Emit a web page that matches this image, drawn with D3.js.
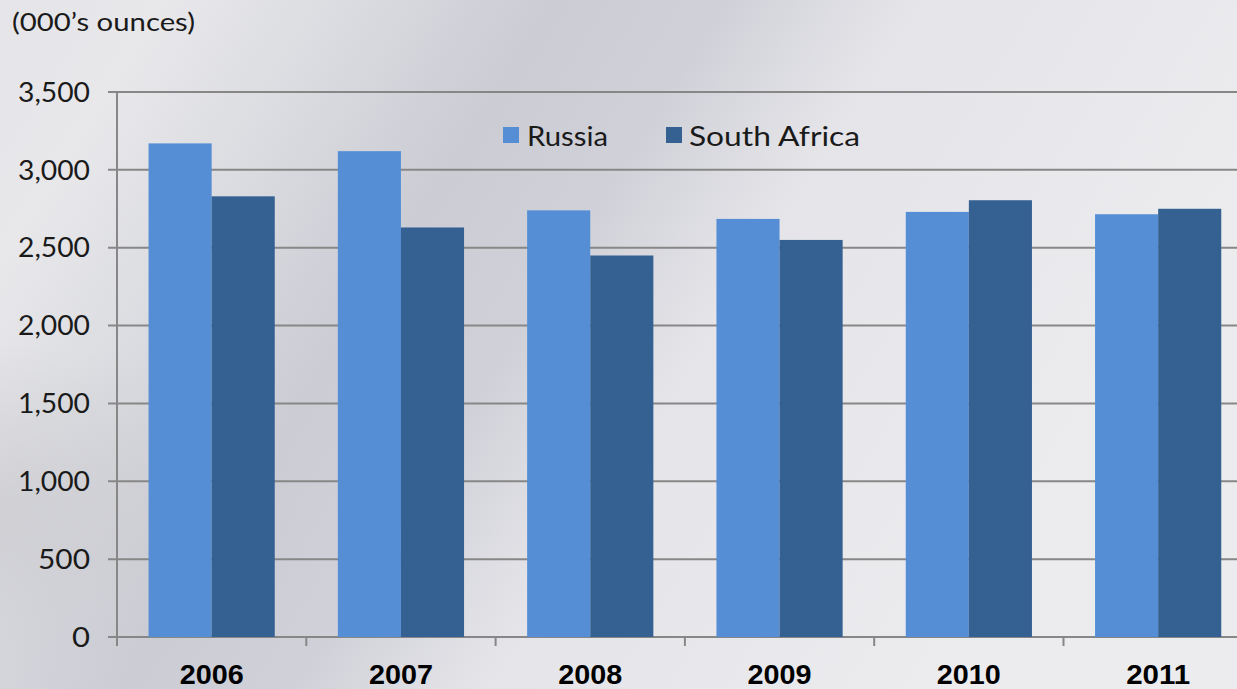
<!DOCTYPE html>
<html><head><meta charset="utf-8">
<script src="https://cdn.jsdelivr.net/npm/d3@7"></script>
<style>html,body{margin:0;padding:0;overflow:hidden;background:#e6e6ea}</style>
</head><body>
<svg id="c" width="1237" height="689"></svg>
<script>
const years = ["2006","2007","2008","2009","2010","2011"];
const seriesNames = ["Russia","South Africa"];
const russia = [3170,3120,2740,2685,2730,2715];
const southAfrica = [2830,2630,2450,2550,2805,2750];
const yTicks = [0,500,1000,1500,2000,2500,3000,3500];
const unitLabel = "(000\u2019s ounces)";
const colors = ["#558ed5","#356092"];

(function(){
const W=1237,H=689;
const svg=d3.select("#c");
const defs=svg.append("defs");
const g1=defs.append("linearGradient").attr("id","bg").attr("x1","0").attr("y1","0").attr("x2","1").attr("y2","0.35");
[[0,"#e5e5e9"],[0.12,"#e8e8eb"],[0.28,"#d8d9de"],[0.4,"#cbccd4"],[0.52,"#d0d1d8"],[0.66,"#e5e5e9"],[1,"#ececef"]].forEach(s=>g1.append("stop").attr("offset",s[0]).attr("stop-color",s[1]));
svg.append("rect").attr("width",W).attr("height",H).attr("fill","url(#bg)");
const rg=defs.append("radialGradient").attr("id","bl").attr("cx","0").attr("cy","0.75").attr("r","0.25");
rg.append("stop").attr("offset",0).attr("stop-color","#c9c9ce").attr("stop-opacity",0.7);
rg.append("stop").attr("offset",1).attr("stop-color","#c9c9ce").attr("stop-opacity",0);
svg.append("rect").attr("width",W).attr("height",H).attr("fill","url(#bl)");

const mLeft=117, mTop=92, zeroY=637;
const step=189.3;
const x0=d3.scaleBand().domain(years).range([mLeft,mLeft+step*years.length]).paddingInner(1/3).paddingOuter(1/6);
const x1=d3.scaleBand().domain(seriesNames).range([0,x0.bandwidth()]);
const y=d3.scaleLinear().domain([0,3500]).range([zeroY,mTop]);
const font="Lato, 'DejaVu Sans', sans-serif";

svg.append("g").selectAll("line").data(yTicks).join("line")
 .attr("x1",108).attr("x2",W).attr("y1",d=>y(d)).attr("y2",d=>y(d))
 .attr("stroke","#878787").attr("stroke-width",2);

const fmt=d3.format(",");
svg.append("g").selectAll("text").data(yTicks).join("text")
 .attr("x",90).attr("y",d=>y(d)).attr("dy","0.36em").attr("text-anchor","end")
 .attr("font-family",font).attr("font-size",27).attr("fill","#1a1a1a")
 .attr("textLength",d=>{const s=fmt(d);return s.length>3?72:(s.length>1?52:18);}).attr("lengthAdjust","spacingAndGlyphs")
 .text(d=>fmt(d));

const data=years.map((yr,i)=>({yr,vals:[russia[i],southAfrica[i]]}));
const grp=svg.append("g").selectAll("g").data(data).join("g").attr("transform",d=>`translate(${x0(d.yr)},0)`);
grp.selectAll("rect").data(d=>d.vals.map((v,j)=>({k:seriesNames[j],v,j}))).join("rect")
 .attr("x",d=>x1(d.k)).attr("width",x1.bandwidth()).attr("y",d=>y(d.v)).attr("height",d=>zeroY-y(d.v))
 .attr("fill",d=>colors[d.j]);

svg.append("line").attr("x1",mLeft).attr("x2",mLeft).attr("y1",mTop).attr("y2",646).attr("stroke","#878787").attr("stroke-width",2);
const bounds=d3.range(years.length+1).map(i=>mLeft+i*x0.step());
svg.append("g").selectAll("line").data(bounds).join("line")
 .attr("x1",d=>d).attr("x2",d=>d).attr("y1",zeroY).attr("y2",646).attr("stroke","#878787").attr("stroke-width",2);

svg.append("g").selectAll("text").data(years).join("text")
 .attr("x",d=>x0(d)+x0.bandwidth()/2).attr("y",684).attr("text-anchor","middle")
 .attr("font-family","'Liberation Sans', Arial, sans-serif").attr("font-weight","bold").attr("font-size",28).attr("fill","#000")
 .attr("textLength",64).attr("lengthAdjust","spacingAndGlyphs")
 .text(d=>d);

svg.append("text").attr("x",12).attr("y",31).attr("font-family",font).attr("font-size",25).attr("fill","#1a1a1a")
 .attr("textLength",183).attr("lengthAdjust","spacingAndGlyphs").text(unitLabel);

const leg=[{x:503,tx:527,w:81},{x:666,tx:689,w:171}];
seriesNames.forEach((n,i)=>{
 svg.append("rect").attr("x",leg[i].x).attr("y",127).attr("width",16).attr("height",16).attr("fill",colors[i]);
 svg.append("text").attr("x",leg[i].tx).attr("y",146).attr("font-family",font).attr("font-size",27).attr("fill","#1a1a1a")
  .attr("textLength",leg[i].w).attr("lengthAdjust","spacingAndGlyphs").text(n);
});
})();
</script>
</body></html>
